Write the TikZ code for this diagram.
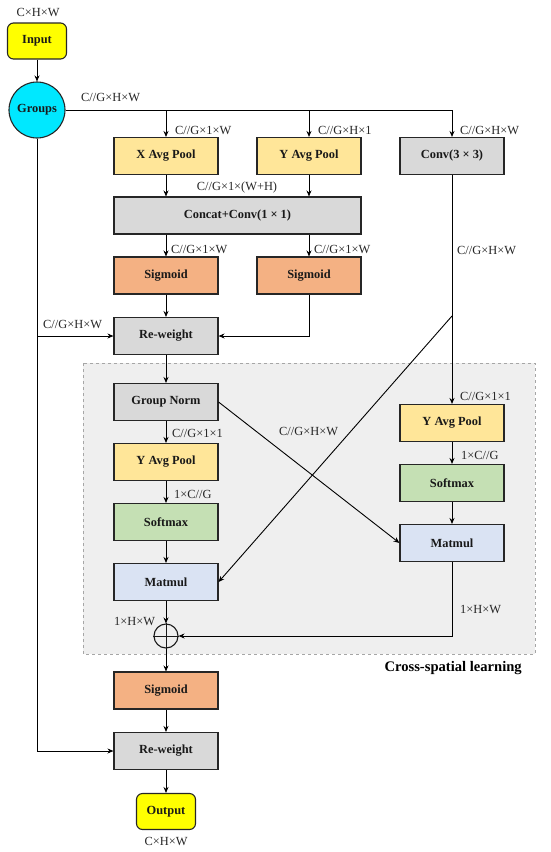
\documentclass[tikz,border=0pt]{standalone}
\usepackage{fontspec}
\setmainfont{Liberation Serif}
\usetikzlibrary{arrows.meta}
\definecolor{poolc}{RGB}{255,230,153}
\definecolor{grayc}{RGB}{217,217,217}
\definecolor{sigc}{RGB}{244,177,131}
\definecolor{softc}{RGB}{197,224,180}
\definecolor{matc}{RGB}{218,227,243}
\definecolor{grpc}{RGB}{0,232,255}
\definecolor{ioc}{RGB}{255,255,0}
\definecolor{areac}{RGB}{239,239,239}
\begin{document}
\begin{tikzpicture}[x=1pt, y=-1pt,
  box/.style={draw=black!85, line width=1.1pt, minimum width=104pt, minimum height=37pt,
    inner sep=0pt, text=black!90, font=\fontsize{12.4}{14}\selectfont\bfseries},
  pool/.style={box, fill=poolc},
  gbox/.style={box, fill=grayc},
  sig/.style={box, fill=sigc},
  soft/.style={box, fill=softc},
  mat/.style={box, fill=matc},
  iobox/.style={box, fill=ioc, rounded corners=6pt, minimum width=59pt, minimum height=36pt},
  lbl/.style={anchor=west, inner sep=0pt, text=black!85, font=\fontsize{12.4}{14}\selectfont},
  arr/.style={line width=0.9pt, -{Stealth[length=6pt,width=5pt]}},
  ln/.style={line width=0.9pt}]
\path[use as bounding box] (0,0) rectangle (550,852);
\filldraw[fill=areac, draw=black!35, dashed, line width=0.8pt] (83,363) rectangle (535,654);
\node[iobox] (in) at (37,41) {Input};
\node[lbl, anchor=center] (inl) at (38,12) {C×H×W};
\node[box, circle, fill=grpc, minimum size=56pt] (grp) at (37,110) {Groups};
\node[pool] (xap) at (166,156) {X Avg Pool};
\node[pool] (yap) at (309,156) {Y Avg Pool};
\node[gbox] (conv) at (452,156) {Conv(3 × 3)};
\node[gbox, minimum width=247pt] (cat) at (237.5,215.5) {Concat+Conv(1 × 1)};
\node[sig] (sg1) at (166,275.5) {Sigmoid};
\node[sig] (sg2) at (309,275.5) {Sigmoid};
\node[gbox] (rw1) at (166,336) {Re-weight};
\node[gbox] (gn) at (166,402) {Group Norm};
\node[pool] (yapl) at (166,462) {Y Avg Pool};
\node[soft] (sml) at (166,522) {Softmax};
\node[mat] (mml) at (166,582) {Matmul};
\node[circle, draw=black!90, line width=1.1pt, minimum size=24pt, inner sep=0pt] (add) at (166,636) {};
\node[pool] (yapr) at (452,423) {Y Avg Pool};
\node[soft] (smr) at (452,483) {Softmax};
\node[mat] (mmr) at (452,543) {Matmul};
\node[sig] (sg3) at (166,690.5) {Sigmoid};
\node[gbox] (rw2) at (166,751) {Re-weight};
\node[iobox] (out) at (166,811.5) {Output};
\node[lbl, anchor=center] (outl) at (166,841) {C×H×W};
\node[lbl, anchor=east, font=\fontsize{14.6}{16}\selectfont\bfseries, text=black] (csl) at (522,668) {Cross-spatial learning};
\coordinate (tr) at (452,110);
\coordinate (kink) at (452,316);
\draw[ln, black!90] (add.north) -- (add.south) (add.west) -- (add.east);
\draw[arr] (in) -- (grp);
\draw[arr] (grp.east) -- (tr) -- (conv.north);
\draw[arr] (xap.north |- tr) -- (xap.north);
\draw[arr] (yap.north |- tr) -- (yap.north);
\draw[arr] (xap.south) -- (xap.south |- cat.north);
\draw[arr] (yap.south) -- (yap.south |- cat.north);
\draw[arr] (sg1.north |- cat.south) -- (sg1.north);
\draw[arr] (sg2.north |- cat.south) -- (sg2.north);
\draw[arr] (sg1) -- (rw1);
\draw[arr] (sg2.south) |- (rw1.east);
\draw[arr] (grp.south) |- (rw2.west);
\draw[arr] (grp.south |- rw1.west) -- (rw1.west);
\draw[arr] (rw1) -- (gn);
\draw[arr] (gn) -- (yapl);
\draw[arr] (yapl) -- (sml);
\draw[arr] (sml) -- (mml);
\draw[arr] (conv) -- (yapr);
\draw[arr] (kink) -- (mml.east);
\draw[arr] (gn.east) -- (mmr.west);
\draw[arr] (yapr) -- (smr);
\draw[arr] (smr) -- (mmr);
\draw[arr] (mml) -- (add);
\draw[arr] (mmr.south) |- (add.east);
\draw[arr] (add) -- (sg3);
\draw[arr] (sg3) -- (rw2);
\draw[arr] (rw2) -- (out);
\node[lbl] (l1) at (81,97) {C//G×H×W};
\node[lbl] (l2) at (175,130) {C//G×1×W};
\node[lbl] (l3) at (318,130) {C//G×H×1};
\node[lbl] (l4) at (460,130) {C//G×H×W};
\node[lbl, anchor=center] (l5) at (237,188) {C//G×1×(W+H)};
\node[lbl] (l6) at (171,249) {C//G×1×W};
\node[lbl] (l7) at (314,249) {C//G×1×W};
\node[lbl] (l8) at (43,324) {C//G×H×W};
\node[lbl] (l9) at (457,250) {C//G×H×W};
\node[lbl] (l10) at (460,396) {C//G×1×1};
\node[lbl] (l11) at (461,455) {1×C//G};
\node[lbl] (l12) at (172,433) {C//G×1×1};
\node[lbl] (l13) at (174,494) {1×C//G};
\node[lbl] (l14) at (279,431) {C//G×H×W};
\node[lbl] (l15) at (114,621) {1×H×W};
\node[lbl] (l16) at (460,609) {1×H×W};
\end{tikzpicture}
\end{document}
